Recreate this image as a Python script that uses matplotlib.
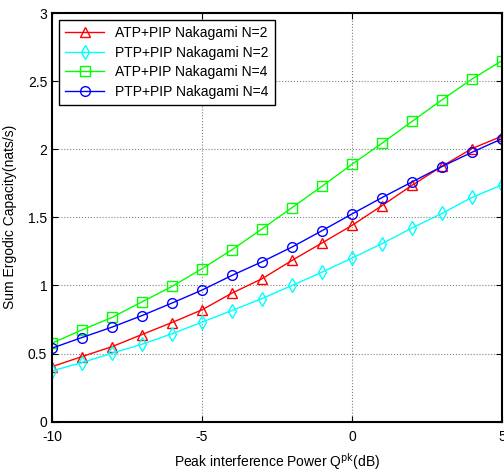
# Gráfica de capacidad ergódica vs potencia de interferencia pico
import matplotlib
matplotlib.use('Agg')
import matplotlib.pyplot as plt
import numpy as np

# Datos
potencia_db = [-10, -9, -8, -7, -6, -5, -4, -3, -2, -1, 0, 1, 2, 3, 4, 5]

atp_n2 = [0.404, 0.478, 0.551, 0.640, 0.728, 0.821, 0.944, 1.049, 1.184, 1.312,
          1.441, 1.586, 1.735, 1.875, 2.005, 2.096]
ptp_n2 = [0.373, 0.434, 0.503, 0.569, 0.645, 0.731, 0.816, 0.904, 1.000, 1.098,
          1.201, 1.307, 1.422, 1.529, 1.647, 1.738]
atp_n4 = [0.576, 0.674, 0.765, 0.880, 0.993, 1.123, 1.262, 1.415, 1.571, 1.728,
          1.890, 2.044, 2.204, 2.363, 2.515, 2.650]
ptp_n4 = [0.540, 0.618, 0.694, 0.779, 0.871, 0.966, 1.074, 1.174, 1.282, 1.402,
          1.525, 1.645, 1.760, 1.873, 1.978, 2.077]

etiquetas = ['ATP+PIP Nakagami N=2', 'PTP+PIP Nakagami N=2',
             'ATP+PIP Nakagami N=4', 'PTP+PIP Nakagami N=4']

plt.rcParams['font.family'] = ['Liberation Sans', 'DejaVu Sans']
plt.rcParams['axes.unicode_minus'] = False

fig = plt.figure(figsize=(5.04, 4.71), dpi=100)
ax = fig.add_axes([52 / 504, 1 - 421.7 / 471, 450 / 504, (421.7 - 13) / 471])

estilo = dict(linewidth=1.0, markersize=7, markerfacecolor='none', markeredgewidth=1.0)
ax.plot(potencia_db, atp_n2, color='#ff0000', marker='^', label=etiquetas[0], **estilo)
ax.plot(potencia_db, ptp_n2, color='#00ffff', marker='d', label=etiquetas[1], **estilo)
ax.plot(potencia_db, atp_n4, color='#00ff00', marker='s', label=etiquetas[2], **estilo)
ax.plot(potencia_db, ptp_n4, color='#0000ff', marker='o', label=etiquetas[3], **estilo)

ax.set_xlim(-10, 5)
ax.set_ylim(0, 3)
ax.set_xticks([-10, -5, 0, 5])
ax.set_yticks(np.arange(0, 3.01, 0.5))
ax.set_yticklabels(['0', '0.5', '1', '1.5', '2', '2.5', '3'])

ax.grid(True, linestyle=':', color='#808080', linewidth=0.8)
ax.tick_params(direction='in', top=True, right=True, labelsize=10, length=4)
ax.tick_params(axis='x', pad=6)
for lado in ax.spines.values():
    lado.set_linewidth(1.5)

ax.set_xlabel('Peak interference Power Q$^{\\mathrm{pk}}$(dB)', fontsize=10, labelpad=5)
ax.set_ylabel('Sum Ergodic Capacity(nats/s)', fontsize=10, labelpad=8)

ley = ax.legend(loc='upper left', fontsize=10, fancybox=False, framealpha=1,
                edgecolor='black', borderaxespad=0.5, handlelength=2.8,
                labelspacing=0.4, borderpad=0.45)
ley.get_frame().set_linewidth(1.0)

fig.savefig('out.png', dpi=100)
